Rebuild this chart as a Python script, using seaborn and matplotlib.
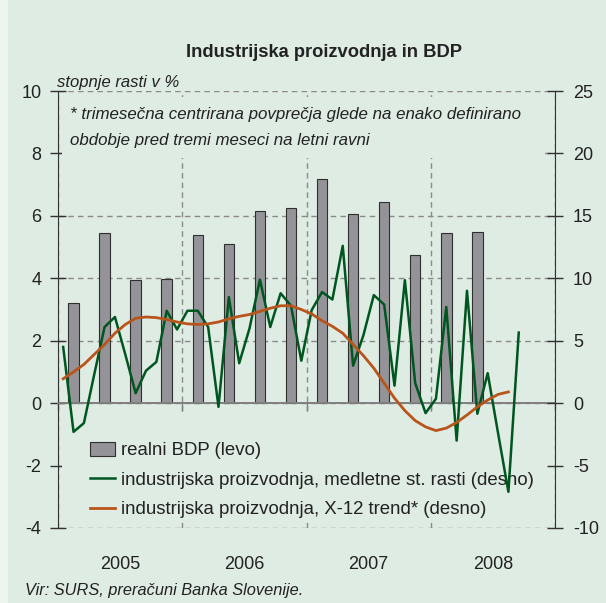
import numpy as np
import pandas as pd
import matplotlib
matplotlib.use('Agg')
import matplotlib.pyplot as plt
from matplotlib.patches import Patch, Rectangle
from matplotlib.lines import Line2D
import seaborn as sns

# realni BDP, medletna rast v % (levo), cetrtletno 2005Q1 - 2008Q2
quarters = ['2005Q1', '2005Q2', '2005Q3', '2005Q4', '2006Q1', '2006Q2', '2006Q3',
            '2006Q4', '2007Q1', '2007Q2', '2007Q3', '2007Q4', '2008Q1', '2008Q2']
bdp = [3.21, 5.44, 3.94, 3.98, 5.38, 5.09, 6.15, 6.26, 7.17, 6.05, 6.45, 4.74, 5.44, 5.49]

# industrijska proizvodnja, medletne stopnje rasti (desno), mesecno jan 2005 - sep 2008
ip_yoy = [4.5, -2.3, -1.6, 2.3, 6.1, 6.9, 3.9, 0.8, 2.6, 3.3, 7.4, 5.9,
          7.4, 7.4, 6.1, -0.3, 8.5, 3.2, 6.0, 9.9, 6.1, 8.8, 7.8, 3.4,
          7.45, 8.9, 8.3, 12.6, 3.0, 5.45, 8.65, 7.9, 1.4, 9.85, 1.6, -0.8,
          0.35, 7.7, -3.0, 9.0, -0.85, 2.4, -2.4, -7.1, 5.65]

# industrijska proizvodnja, X-12 trend (desno), jan 2005 - avg 2008
ip_trend = [1.95, 2.5, 3.1, 3.9, 4.7, 5.6, 6.3, 6.8, 6.9, 6.85, 6.7, 6.5,
            6.35, 6.3, 6.35, 6.5, 6.75, 6.95, 7.1, 7.35, 7.6, 7.8, 7.8, 7.5,
            7.15, 6.6, 6.15, 5.6, 4.7, 3.8, 2.8, 1.6, 0.4, -0.6, -1.4, -1.9,
            -2.2, -2.0, -1.55, -0.95, -0.3, 0.25, 0.7, 0.9]

years = ['2005', '2006', '2007', '2008']
labels = ['realni BDP (levo)',
          'industrijska proizvodnja, medletne st. rasti (desno)',
          'industrijska proizvodnja, X-12 trend* (desno)']
note = ['* trimesečna centrirana povprečja glede na enako definirano',
        'obdobje pred tremi meseci na letni ravni']

bg = '#deece4'
bar_col = '#949498'
green = '#00561f'
orange = '#b9541a'
grid_col = '#8a8a8a'

plt.rcParams['font.family'] = ['Liberation Sans Narrow', 'Liberation Sans', 'DejaVu Sans']
plt.rcParams['axes.unicode_minus'] = False

# x v mesecih od jan 2005
df_q = pd.DataFrame({'x': np.arange(len(bdp)) * 3 + 1.5, 'bdp': bdp})
df_m = pd.DataFrame({'x': np.arange(len(ip_yoy)) + 0.5, 'ip': ip_yoy})
df_t = pd.DataFrame({'x': np.arange(len(ip_trend)) + 0.5, 'trend': ip_trend})

fig = plt.figure(figsize=(6.06, 6.03), dpi=100, facecolor='#eef5f1')
fig.patches.append(Rectangle((8 / 606, 0), 1, 1, transform=fig.transFigure,
                             facecolor=bg, edgecolor='none', zorder=-10))
ax = fig.add_axes([58 / 606, 1 - 528 / 603, 497 / 606, 437 / 603])
ax.set_facecolor(bg)

sns.barplot(data=df_q, x='x', y='bdp', native_scale=True, width=0.34,
            color=bar_col, saturation=1, edgecolor='#2f2f2f', linewidth=0.8, ax=ax)

ax.set_xlim(0, 48)
ax.set_ylim(-4, 10)
ax.set_yticks(range(-4, 11, 2))
ax.set_xticks([0, 12, 24, 36, 48])
ax.set_xlabel('')
ax.set_ylabel('')
ax.set_axisbelow(True)
ax.grid(True, linestyle=(0, (4, 3)), color=grid_col, linewidth=1)

ax.spines['top'].set_visible(False)
ax.spines['right'].set_visible(False)
ax.spines['left'].set_color('#333333')
ax.spines['bottom'].set_position(('data', 0))
ax.spines['bottom'].set_color('#7f7f7f')
ax.spines['bottom'].set_linewidth(1.4)
ax.tick_params(axis='y', direction='inout', length=11, width=1, color='#333333',
               labelsize=13, labelcolor='#222222', pad=6.5)
ax.tick_params(axis='x', direction='out', length=5, width=1, color='#7f7f7f',
               labelbottom=False)

# okvir za opombo
ax.add_patch(Rectangle((0.008, 0.847), 0.972, 0.139, transform=ax.transAxes,
                       facecolor=bg, edgecolor='none', zorder=2))
for k, line in enumerate(note):
    ax.text(12 / 497, 1 - (119 + 26 * k - 91) / 437, line,
            transform=ax.transAxes, ha='left', va='baseline', fontsize=12.2,
            style='italic', color='#222222', zorder=3)

# okvir za legendo
ax.add_patch(Rectangle((0.008, (528 - 519) / 437), 0.98, (519 - 412) / 437,
                       transform=ax.transAxes, facecolor=bg, edgecolor='none', zorder=2))

ax2 = ax.twinx()
sns.lineplot(data=df_m, x='x', y='ip', color=green, linewidth=1.8, ax=ax2, legend=False)
sns.lineplot(data=df_t, x='x', y='trend', color=orange, linewidth=2.0, ax=ax2, legend=False)
ax2.set_ylim(-10, 25)
ax2.set_yticks(range(-10, 26, 5))
ax2.set_xlim(0, 48)
ax2.set_xlabel('')
ax2.set_ylabel('')
for s in ['top', 'bottom', 'left']:
    ax2.spines[s].set_visible(False)
ax2.spines['right'].set_color('#333333')
ax2.tick_params(axis='y', direction='inout', length=11, width=1, color='#333333',
                labelsize=13, labelcolor='#222222', pad=7.5)

handles = [Patch(facecolor=bar_col, edgecolor='#2f2f2f', linewidth=0.8),
           Line2D([], [], color=green, linewidth=1.8),
           Line2D([], [], color=orange, linewidth=2.0)]
leg = ax.legend(handles, labels, loc='upper left',
                bbox_to_anchor=((90 - 58) / 497, (528 - 442) / 437),
                frameon=False, fontsize=13.4, handlelength=1.35, handleheight=0.75,
                handletextpad=0.3, labelspacing=0.66, borderpad=0, borderaxespad=0)
leg.set_zorder(3)
for t in leg.get_texts():
    t.set_color('#222222')

for i, y in enumerate(years):
    ax.text(i * 12 + 6, -0.083, y, transform=ax.get_xaxis_transform(),
            ha='center', va='center', fontsize=13, color='#222222')

fig.text(324 / 606, 1 - 57 / 603, 'Industrijska proizvodnja in BDP', ha='center',
         va='baseline', fontsize=13.2, fontweight='bold', color='#222222')
fig.text(57 / 606, 1 - 87 / 603, 'stopnje rasti v %', ha='left', va='baseline',
         fontsize=12, style='italic', color='#222222')
fig.text(25 / 606, 1 - 591 / 603, 'Vir: SURS, preračuni Banka Slovenije.', ha='left',
         va='center', fontsize=11.8, style='italic', color='#222222')

fig.savefig('out.png', dpi=100, facecolor=fig.get_facecolor())
